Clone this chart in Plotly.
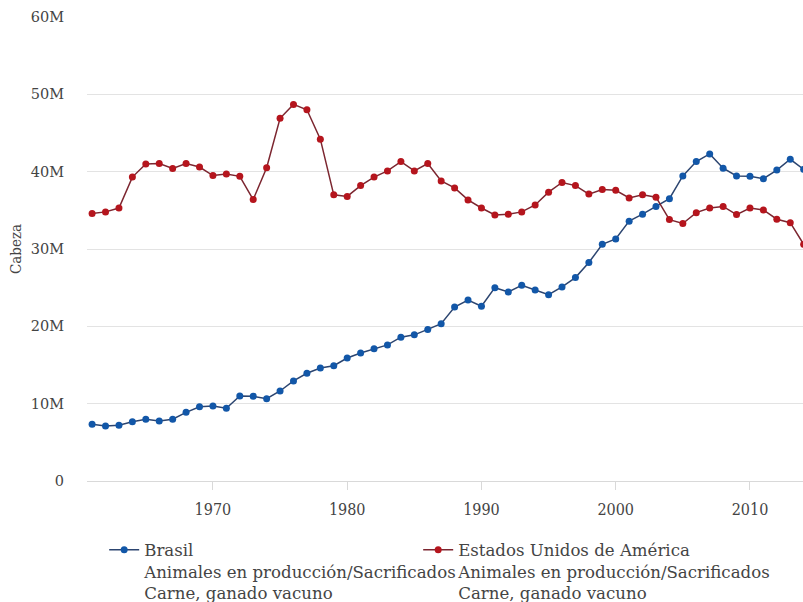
import plotly.graph_objects as go

years = list(range(1961, 2015))

brasil = [7330000, 7100000, 7200000, 7670000, 7980000, 7760000, 7980000, 8880000, 9600000, 9700000,
          9400000, 11000000, 10950000, 10650000, 11640000, 12940000, 13930000, 14600000, 14900000, 15900000,
          16560000, 17100000, 17600000, 18600000, 18900000, 19600000, 20350000, 22500000, 23400000, 22600000,
          25000000, 24450000, 25300000, 24700000, 24100000, 25100000, 26300000, 28250000, 30600000, 31300000,
          33600000, 34500000, 35500000, 36500000, 39450000, 41300000, 42300000, 40450000, 39450000, 39400000,
          39100000, 40200000, 41600000, 40300000]

usa = [34600000, 34800000, 35300000, 39300000, 41000000, 41050000, 40400000, 41050000, 40600000, 39500000,
       39700000, 39400000, 36400000, 40500000, 46900000, 48700000, 48000000, 44200000, 37000000, 36800000,
       38200000, 39300000, 40100000, 41300000, 40100000, 41050000, 38800000, 37900000, 36350000, 35300000,
       34400000, 34500000, 34800000, 35700000, 37350000, 38600000, 38200000, 37100000, 37700000, 37600000,
       36600000, 37000000, 36700000, 33800000, 33300000, 34700000, 35300000, 35500000, 34450000, 35300000,
       35050000, 33850000, 33400000, 30600000]

name_br = "Brasil<br>Animales en producción/Sacrificados<br>Carne, ganado vacuno"
name_us = "Estados Unidos de América<br>Animales en producción/Sacrificados<br>Carne, ganado vacuno"

FONT = "DejaVu Serif Condensed"

fig = go.Figure()
fig.add_trace(go.Scatter(
    x=years, y=brasil, name=name_br, mode="lines+markers",
    line=dict(color="#2c4570", width=1.5),
    marker=dict(color="#1257a8", size=7),
))
fig.add_trace(go.Scatter(
    x=years, y=usa, name=name_us, mode="lines+markers",
    line=dict(color="#7c2630", width=1.5),
    marker=dict(color="#b5151d", size=7),
    legendwidth=340,
))

fig.update_layout(
    width=803, height=602,
    margin=dict(l=87, r=0, t=17, b=121, autoexpand=False),
    paper_bgcolor="white", plot_bgcolor="white",
    font=dict(family=FONT, color="#444"),
    showlegend=True,
    legend=dict(
        orientation="h", x=0.024, xanchor="left", y=-0.111, yanchor="top",
        font=dict(family="DejaVu Serif", size=16.6, color="#444"),
        entrywidth=269, entrywidthmode="pixels",
        traceorder="normal", valign="top",
    ),
    xaxis=dict(
        range=[1960.62, 2013.95],
        tickvals=[1970, 1980, 1990, 2000, 2010],
        showgrid=False, zeroline=False,
        showline=True, linecolor="#d9d9d9", linewidth=1,
        ticks="outside", ticklen=8, tickcolor="#d9d9d9",
        tickfont=dict(family=FONT, size=16, color="#444"),
        ticklabelstandoff=6, automargin=False,
    ),
    yaxis=dict(
        range=[0, 60000000],
        tickvals=[0, 10000000, 20000000, 30000000, 40000000, 50000000, 60000000],
        ticktext=["0", "10M", "20M", "30M", "40M", "50M", "60M"],
        showgrid=True, gridcolor="#e3e3e3", gridwidth=1,
        zeroline=False, showline=False, ticks="",
        tickfont=dict(family="DejaVu Serif", size=14.5, color="#444"),
        ticklabelstandoff=22, automargin=False,
        title=dict(text="Cabeza", font=dict(family=FONT, size=15, color="#444"), standoff=5),
    ),
)

fig.write_html(
    "out.html",
    config={"displayModeBar": False},
    post_script="document.body.style.margin='0';document.body.style.overflow='hidden';",
)
